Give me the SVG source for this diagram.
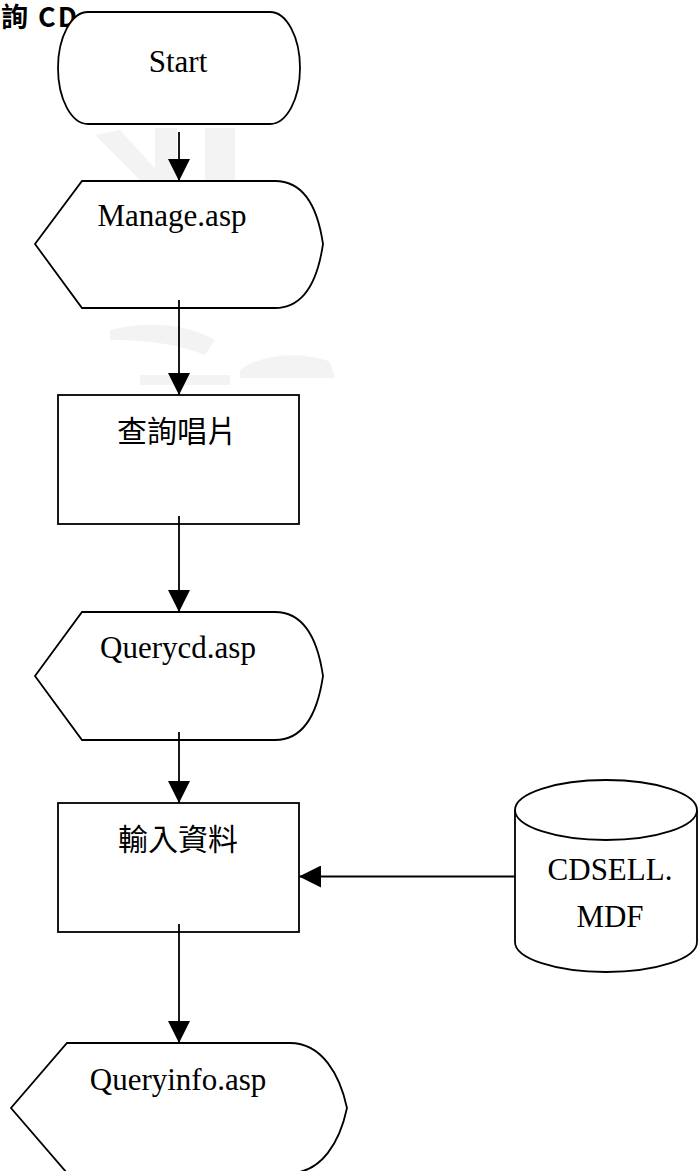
<svg xmlns="http://www.w3.org/2000/svg" width="698" height="1171" viewBox="0 0 698 1171">
<style>
.shape{fill:#fff;stroke:#000;stroke-width:1.8}
.conn{stroke:#000;stroke-width:1.8;fill:none}
.lat{font-family:"Liberation Serif","Times New Roman",serif;font-size:31px;fill:#000;text-anchor:middle}
.cjk{font-family:"Noto Sans CJK TC","Noto Sans CJK SC",sans-serif;font-size:30px;fill:#000;text-anchor:middle}
.ttl{font-family:"Noto Sans CJK TC","Noto Sans CJK SC",sans-serif;font-size:27px;font-weight:bold;fill:#000}
.wm{fill:#f3f3f3;stroke:none}
</style>
<defs>
<marker id="ah" markerUnits="userSpaceOnUse" markerWidth="22" markerHeight="22" viewBox="0 0 20 20" refX="20" refY="10" orient="auto">
<path d="M0,0 L20,10 L0,20 Z" fill="#000"/>
</marker>
</defs>
<g id="watermark">
<path class="wm" d="M95,135 L120,130 L170,185 L150,190 Z"/>
<rect class="wm" x="155" y="128" width="22" height="55"/>
<rect class="wm" x="205" y="128" width="30" height="55"/>
<path class="wm" d="M110,330 C150,320 190,325 215,340 L205,355 C180,345 150,340 110,340 Z"/>
<path class="wm" d="M240,370 C260,355 300,350 330,362 L335,378 L240,378 Z"/>
<path class="wm" d="M140,375 L230,375 L230,385 L140,385 Z"/>
</g>
<g id="title">
<text class="ttl" x="1" y="27" textLength="76" lengthAdjust="spacing">詢 CD</text>
</g>
<g id="start">
<rect class="shape" x="58" y="12" width="242" height="112" rx="30" ry="56"/>
<text class="lat" x="178" y="72">Start</text>
</g>
<g id="manage">
<path class="shape" d="M82,181 L275,181 C305,181 318,210 323,244 C318,278 305,308 275,308 L82,308 L35,244 Z"/>
<text class="lat" x="172" y="226">Manage.asp</text>
</g>
<g id="query-cd">
<rect class="shape" x="58" y="395" width="241" height="129"/>
<text class="cjk" x="177" y="442">查詢唱片</text>
</g>
<g id="querycd">
<path class="shape" d="M82,612 L275,612 C305,612 318,642 323,676 C318,710 305,740 275,740 L82,740 L35,676 Z"/>
<text class="lat" x="178" y="658">Querycd.asp</text>
</g>
<g id="input-data">
<rect class="shape" x="58" y="803" width="241" height="129"/>
<text class="cjk" x="178" y="850">輸入資料</text>
</g>
<g id="cdsell">
<path class="shape" d="M515,810 A91,30 0 0 1 697,810 L697,942 A91,30 0 0 1 515,942 Z"/>
<path class="conn" d="M515,810 A91,30 0 0 0 697,810"/>
<text class="lat" x="610" y="880">CDSELL.</text>
<text class="lat" x="610" y="927">MDF</text>
</g>
<g id="queryinfo">
<path class="shape" d="M67,1043 L290,1043 C322,1043 340,1075 347,1108 C340,1141 322,1173 290,1173 L67,1173 L11,1108 Z"/>
<text class="lat" x="178" y="1090">Queryinfo.asp</text>
</g>
<g id="connectors">
<line class="conn" x1="179" y1="132" x2="179" y2="181" marker-end="url(#ah)"/>
<line class="conn" x1="179" y1="300" x2="179" y2="395" marker-end="url(#ah)"/>
<line class="conn" x1="179" y1="516" x2="179" y2="612" marker-end="url(#ah)"/>
<line class="conn" x1="179" y1="732" x2="179" y2="803" marker-end="url(#ah)"/>
<line class="conn" x1="515" y1="876.5" x2="299" y2="876.5" marker-end="url(#ah)"/>
<line class="conn" x1="179" y1="924" x2="179" y2="1043" marker-end="url(#ah)"/>
</g>
</svg>
